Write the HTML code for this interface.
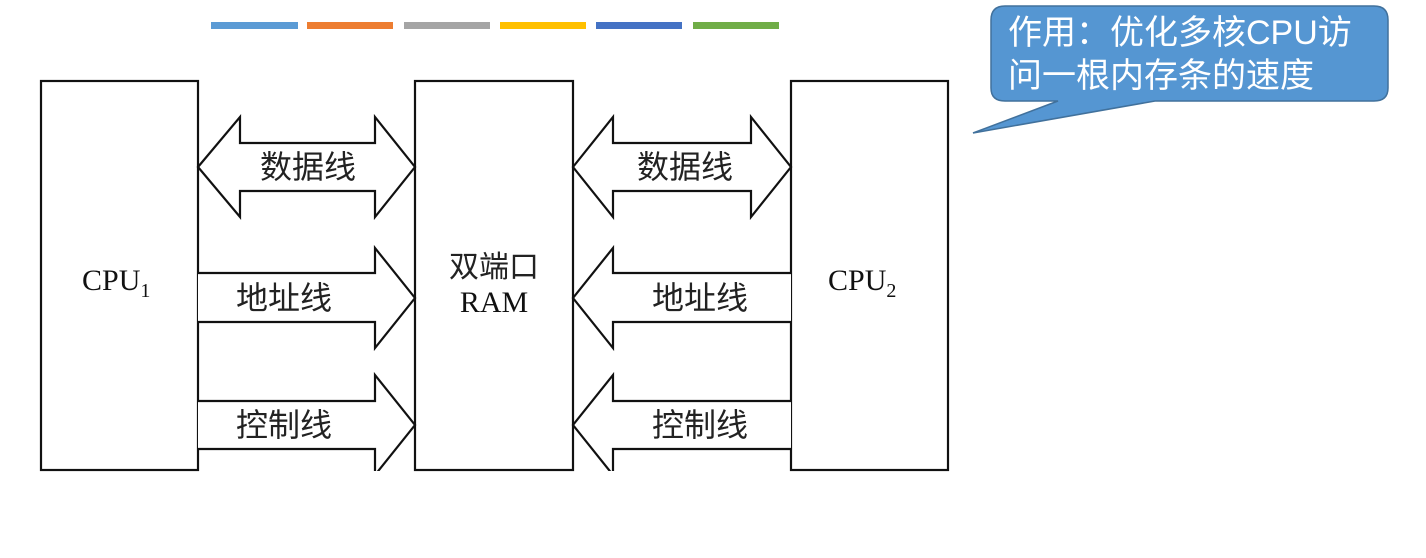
<!DOCTYPE html>
<html><head><meta charset="utf-8"><style>
html,body{margin:0;padding:0;background:#fff;width:1426px;height:558px;overflow:hidden}
svg{display:block}
.cj{font-family:"Liberation Sans","Noto Sans CJK SC",sans-serif;font-size:32px;fill:#222}
.sf{font-family:"Liberation Serif","Noto Serif CJK SC",serif;font-size:30px;fill:#111}
</style></head><body>
<svg width="1426" height="558" viewBox="0 0 1426 558" xmlns="http://www.w3.org/2000/svg">
<defs><clipPath id="c"><rect x="0" y="0" width="1426" height="471"/></clipPath></defs>
<g fill="#fff" stroke="#111" stroke-width="2.2">
<rect x="41" y="81" width="157" height="389"/>
<rect x="415" y="81" width="158" height="389"/>
<rect x="791" y="81" width="157" height="389"/>
<g clip-path="url(#c)" stroke-linejoin="miter">
<polygon points="198,167 240,117 240,143 375,143 375,117 415,167 375,217 375,191 240,191 240,217"/>
<polyline points="198,273 375,273 375,248 415,298 375,348 375,322 198,322"/>
<polyline points="198,401 375,401 375,375 415,425 375,475 375,449 198,449"/>
<polygon points="573,167 613,117 613,143 751,143 751,117 791,167 751,217 751,191 613,191 613,217"/>
<polyline points="791,273 613,273 613,248 573,298 613,348 613,322 791,322"/>
<polyline points="791,401 613,401 613,375 573,425 613,475 613,449 791,449"/>
</g>
</g>
<text class="cj" x="308" y="178" text-anchor="middle">数据线</text>
<text class="cj" x="284" y="309" text-anchor="middle">地址线</text>
<text class="cj" x="284" y="436" text-anchor="middle">控制线</text>
<text class="cj" x="685" y="178" text-anchor="middle">数据线</text>
<text class="cj" x="700" y="309" text-anchor="middle">地址线</text>
<text class="cj" x="700" y="436" text-anchor="middle">控制线</text>
<text class="cj" x="494" y="277" text-anchor="middle" style="font-size:30px">双端口</text>
<text class="sf" x="494" y="312" text-anchor="middle">RAM</text>
<text class="sf" x="82" y="290">CPU<tspan font-size="20" dy="7">1</tspan></text>
<text class="sf" x="828" y="290">CPU<tspan font-size="20" dy="7">2</tspan></text>
<g>
<rect x="211" y="22" width="87" height="7" fill="#5b9bd5"/>
<rect x="307" y="22" width="86" height="7" fill="#ed7d31"/>
<rect x="404" y="22" width="86" height="7" fill="#a5a5a5"/>
<rect x="500" y="22" width="86" height="7" fill="#ffc000"/>
<rect x="596" y="22" width="86" height="7" fill="#4472c4"/>
<rect x="693" y="22" width="86" height="7" fill="#70ad47"/>
</g>
<path d="M1005,6 H1374 Q1388,6 1388,20 V88 Q1388,101 1374,101 H1155 L973,133 L1058,101 H1005 Q991,101 991,88 V20 Q991,6 1005,6 Z" fill="#5596d2" stroke="#41719c" stroke-width="1.5"/>
<text x="1008" y="44" style="font-family:'Liberation Sans','Noto Sans CJK SC',sans-serif;font-size:34px;fill:#fff">作用：优化多核CPU访</text>
<text x="1008" y="87" style="font-family:'Liberation Sans','Noto Sans CJK SC',sans-serif;font-size:34px;fill:#fff">问一根内存条的速度</text>
</svg>
</body></html>
